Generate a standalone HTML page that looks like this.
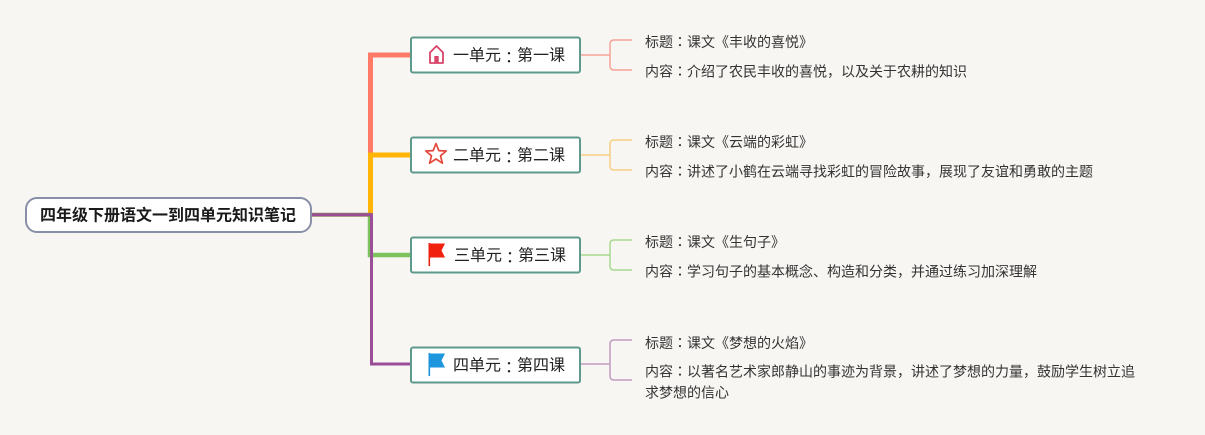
<!DOCTYPE html>
<html><head><meta charset="utf-8">
<style>
html,body{margin:0;padding:0;background:#f7f6f3;}
body{width:1205px;height:430px;overflow:hidden;}
svg text{font-family:"Liberation Sans","Noto Sans CJK SC",sans-serif;}
svg tspan.c{font-family:"Noto Sans CJK TC","Noto Sans CJK JP",sans-serif;}
</style></head>
<body>
<svg width="1205" height="430" viewBox="0 0 1205 430" xmlns="http://www.w3.org/2000/svg">
<rect width="1205" height="430" fill="#f7f6f3"/>
<!-- red -->
<path d="M370.5 153 V55 H411" fill="none" stroke="#ff7b68" stroke-width="5"/>
<!-- orange -->
<path d="M370.5 214 V155 H411" fill="none" stroke="#ffb406" stroke-width="5"/>
<!-- green -->
<path d="M370 213 V255 H411" fill="none" stroke="#7cc25e" stroke-width="4.5"/>
<!-- root line -->
<line x1="311" y1="214.7" x2="371" y2="214.7" stroke="#8f9a4a" stroke-width="4"/>
<!-- purple -->
<path d="M311 214.7 H371.5 V364 H411" fill="none" stroke="#9a4e95" stroke-width="3"/>

<!-- right connectors -->
<g fill="none" stroke-width="1.5">
<path d="M581 55 H610 M632 40 H614 Q610 40 610 44 V66 Q610 70 614 70 H632" stroke="#f3a497"/>
<path d="M581 155 H610 M632 140 H614 Q610 140 610 144 V166 Q610 170 614 170 H632" stroke="#f7cf85"/>
<path d="M581 255 H610 M632 240 H614 Q610 240 610 244 V266 Q610 270 614 270 H632" stroke="#a8d88e"/>
<path d="M581 364 H610 M632 340 H614 Q610 340 610 344 V376 Q610 380 614 380 H632" stroke="#c39ac0"/>
</g>

<!-- root node -->
<rect x="26" y="198" width="285" height="34" rx="11" fill="#fff" stroke="#8a8fa8" stroke-width="2"/>
<text x="168" y="216" text-anchor="middle" dominant-baseline="central" font-size="16" font-weight="bold" fill="#1a1a1a">四年级下册语文一到四单元知识笔记</text>

<!-- unit boxes -->
<g fill="#fff" stroke="#5e9a8c" stroke-width="2">
<rect x="411" y="37.5" width="169" height="35" rx="2"/>
<rect x="411" y="137.5" width="169" height="35" rx="2"/>
<rect x="411" y="237.5" width="169" height="35" rx="2"/>
<rect x="411" y="347.5" width="169" height="35" rx="2"/>
</g>

<!-- house -->
<g>
<path d="M430 63 V52.5 L436.5 46 L443 52.5 V63 Z" fill="none" stroke="#d9446a" stroke-width="1.8" stroke-linejoin="round"/>
<rect x="434.3" y="56" width="4.4" height="7" fill="#d9446a"/>
</g>
<!-- star -->
<path d="M436 143.5 L438.8 150.6 L446.2 151 L440.5 155.8 L442.4 163.2 L436 159 L429.6 163.2 L431.5 155.8 L425.8 151 L433.2 150.6 Z" fill="none" stroke="#e5473b" stroke-width="1.7" stroke-linejoin="round"/>
<!-- red flag -->
<g>
<rect x="428.5" y="243" width="1.6" height="23" fill="#e52313"/>
<path d="M429 243.5 H445 L441.5 250.5 L445 257.5 H429 Z" fill="#f0210f"/>
</g>
<!-- blue flag -->
<g>
<rect x="428.5" y="353" width="1.6" height="23" fill="#1e8fd8"/>
<path d="M429 353.5 H445 L441.5 360.5 L445 367.5 H429 Z" fill="#1e96de"/>
</g>

<!-- unit labels -->
<g font-size="16" fill="#222" dominant-baseline="central">
<text x="453" y="56">一单元<tspan class="c">：</tspan>第一课</text>
<text x="453" y="156">二单元<tspan class="c">：</tspan>第二课</text>
<text x="454" y="256">三单元<tspan class="c">：</tspan>第三课</text>
<text x="453" y="366">四单元<tspan class="c">：</tspan>第四课</text>
</g>

<!-- detail texts -->
<g font-size="14" fill="#333" dominant-baseline="central">
<text x="645" y="42">标题<tspan class="c">：</tspan>课文《丰收的喜悦》</text>
<text x="645" y="71.5">内容<tspan class="c">：</tspan>介绍了农民丰收的喜悦，以及关于农耕的知识</text>
<text x="645" y="142">标题<tspan class="c">：</tspan>课文《云端的彩虹》</text>
<text x="645" y="171.5">内容<tspan class="c">：</tspan>讲述了小鹤在云端寻找彩虹的冒险故事，展现了友谊和勇敢的主题</text>
<text x="645" y="242">标题<tspan class="c">：</tspan>课文《生句子》</text>
<text x="645" y="271.5">内容<tspan class="c">：</tspan>学习句子的基本概念、构造和分类，并通过练习加深理解</text>
<text x="645" y="343">标题<tspan class="c">：</tspan>课文《梦想的火焰》</text>
<text x="645" y="371.5">内容<tspan class="c">：</tspan>以著名艺术家郎静山的事迹为背景，讲述了梦想的力量，鼓励学生树立追</text>
<text x="645" y="392.5">求梦想的信心</text>
</g>
</svg>
</body></html>
